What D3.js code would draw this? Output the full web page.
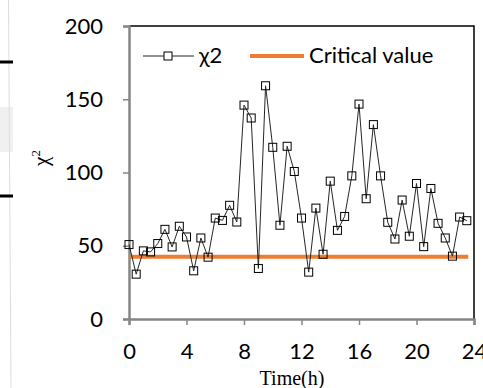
<!DOCTYPE html>
<html>
<head>
<meta charset="utf-8">
<script src="https://cdn.jsdelivr.net/npm/d3@7"></script>
<style>
  body { margin:0; background:#fff; }
  svg { display:block; }
  .tick text { font-family: Lato, "Open Sans", sans-serif; }
</style>
</head>
<body>
<svg id="chart" width="483" height="388"></svg>
<script>
// chi-square value every half hour
var hours = [0,0.5,1,1.5,2,2.5,3,3.5,4,4.5,5,5.5,6,6.5,7,7.5,8,8.5,9,9.5,10,10.5,11,11.5,
             12,12.5,13,13.5,14,14.5,15,15.5,16,16.5,17,17.5,18,18.5,19,19.5,20,20.5,21,21.5,22,22.5,23,23.5];
var chi2 = [50.8,30.6,46.5,45.8,51.5,61.2,49.2,63.3,56,32.9,55.3,42.2,68.9,67.3,77.6,66.2,
            146,137.2,34.5,159.2,117.2,64,117.9,100.7,68.9,32,75.7,44.2,94.1,60.5,70,97.7,
            146.7,82.1,132.7,97.7,66,54.6,81.2,56.5,92.5,49.4,89.1,65.3,55.3,42.9,69.6,67.1];
var criticalValue = 42.5;
var xTicks = [0,4,8,12,16,20,24];
var yTicks = [0,50,100,150,200];

var svg = d3.select("#chart");
var plotLeft = 129, plotRight = 474, plotTop = 26, plotBottom = 319;

var x = d3.scaleLinear().domain([0,24]).range([plotLeft,plotRight]);
var y = d3.scaleLinear().domain([0,200]).range([plotBottom,plotTop]);

// leftovers of the neighbouring figure on the left edge
svg.append("rect").attr("x",0).attr("y",107).attr("width",13).attr("height",45).attr("fill","#f0f0f0");
svg.append("line").attr("x1",8.5).attr("y1",0).attr("x2",11).attr("y2",388).attr("stroke","#dcdcdc").attr("stroke-width",1);
svg.append("rect").attr("x",0).attr("y",60.5).attr("width",13).attr("height",3).attr("fill","#000");
svg.append("rect").attr("x",0).attr("y",194.5).attr("width",13).attr("height",3).attr("fill","#000");

// frame top/right
svg.append("path")
  .attr("d","M"+plotLeft+","+plotTop+"H"+plotRight+"V"+plotBottom)
  .attr("fill","none").attr("stroke","#000").attr("stroke-width",1.5);

var yAxis = svg.append("g").attr("transform","translate("+plotLeft+",0)")
  .call(d3.axisLeft(y).tickValues(yTicks).tickSize(6).tickPadding(20));
var xAxis = svg.append("g").attr("transform","translate(0,"+plotBottom+")")
  .call(d3.axisBottom(x).tickValues(xTicks).tickSize(6).tickPadding(15));
[yAxis,xAxis].forEach(function(a){
  a.select(".domain").attr("stroke","#868686").attr("stroke-width",2.5);
  a.selectAll(".tick line").attr("stroke","#868686").attr("stroke-width",1.5);
  a.selectAll(".tick text").attr("fill","#000").attr("font-size",22);
});
xAxis.selectAll(".tick text").attr("dy","0.85em");

// critical value line
svg.append("line")
  .attr("x1",x(0)).attr("x2",x(23.6))
  .attr("y1",y(criticalValue)).attr("y2",y(criticalValue))
  .attr("stroke","#ED7D31").attr("stroke-width",4);

// chi2 series
var line = d3.line().x(function(d,i){return x(hours[i]);}).y(function(d){return y(d);});
svg.append("path").datum(chi2).attr("d",line)
  .attr("fill","none").attr("stroke","#262626").attr("stroke-width",1);
svg.selectAll("rect.mk").data(chi2).enter().append("rect").attr("class","mk")
  .attr("x",function(d,i){return x(hours[i])-4;})
  .attr("y",function(d){return y(d)-4;})
  .attr("width",8).attr("height",8)
  .attr("fill","none").attr("stroke","#000").attr("stroke-width",1);

// legend
var ly = 56;
svg.append("line").attr("x1",143).attr("x2",194).attr("y1",ly).attr("y2",ly).attr("stroke","#262626");
svg.append("rect").attr("x",164).attr("y",ly-4).attr("width",8).attr("height",8)
  .attr("fill","#fff").attr("stroke","#000");
svg.append("text").attr("x",199).attr("y",ly+7).attr("font-family","Lato, 'Open Sans', sans-serif")
  .attr("font-size",22).text("χ2");
svg.append("line").attr("x1",250).attr("x2",304).attr("y1",ly).attr("y2",ly)
  .attr("stroke","#ED7D31").attr("stroke-width",4);
svg.append("text").attr("x",309).attr("y",ly+7).attr("font-family","Lato, 'Open Sans', sans-serif")
  .attr("font-size",22).text("Critical value");

// axis titles
svg.append("text").attr("transform","translate(48,158) rotate(-90)")
  .attr("text-anchor","middle").attr("font-family","'Liberation Serif', 'DejaVu Serif', serif")
  .attr("font-size",21)
  .html('χ<tspan dy="-8" font-size="13">2</tspan>');
svg.append("text").attr("x",292).attr("y",385).attr("text-anchor","middle")
  .attr("font-family","'Liberation Serif', 'DejaVu Serif', serif").attr("font-size",20)
  .text("Time(h)");
</script>
</body>
</html>
